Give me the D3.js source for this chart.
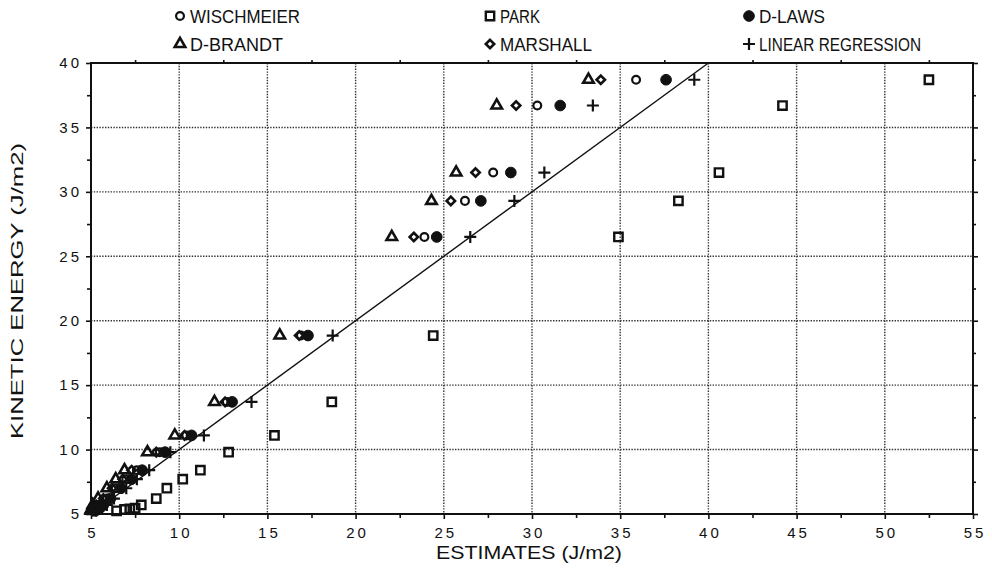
<!DOCTYPE html>
<html>
<head>
<meta charset="utf-8">
<script src="https://cdn.jsdelivr.net/npm/d3@7"></script>
<style>
  body { margin: 0; background: #fff; }
  text { font-family: "Liberation Sans Narrow", "Liberation Sans", Arial, sans-serif; fill: #111; }
</style>
</head>
<body>
<svg id="chart" width="992" height="568"></svg>
<script>
// kinetic energy levels (observed), shared by every estimate series
const kineticEnergy = [38.7, 36.7, 31.5, 29.3, 26.5, 18.85, 13.7, 11.1, 9.8, 8.4, 7.7, 7.0, 6.2, 5.7, 5.45, 5.4, 5.35, 5.25];

const wischmeier = [35.9, 30.3, 27.8, 26.2, 23.9, 16.9, 12.7, 10.4, 8.9, 7.6, 7.0, 6.4, 5.9, 5.5, 5.4, 5.3, 5.2, 5.15];
const park       = [52.5, 44.2, 40.6, 38.3, 34.9, 24.4, 18.65, 15.4, 12.8, 11.2, 10.2, 9.3, 8.7, 7.85, 7.5, 7.2, 6.9, 6.45];
const dLaws      = [37.6, 31.6, 28.8, 27.1, 24.6, 17.3, 13.0, 10.7, 9.2, 7.9, 7.3, 6.7, 6.1, 5.7, 5.5, 5.4, 5.3, 5.2];
const dBrandt    = [33.2, 28.0, 25.7, 24.3, 22.05, 15.7, 12.0, 9.75, 8.2, 6.9, 6.4, 5.9, 5.4, 5.1, 5.1, 5.05, 5.0, 5.0];
const marshall   = [33.9, 29.1, 26.8, 25.4, 23.3, 16.8, 12.6, 10.3, 8.7, 7.3, 6.8, 6.2, 5.7, 5.3, 5.3, 5.2, 5.15, 5.1];
const linReg     = [39.2, 33.45, 30.7, 29.0, 26.5, 18.7, 14.1, 11.4, 9.5, 8.3, 7.6, 7.0, 6.3, 5.9, 5.6, 5.5, 5.4, 5.3];

const xTicks = [5, 10, 15, 20, 25, 30, 35, 40, 45, 50, 55];
const yTicks = [5, 10, 15, 20, 25, 30, 35, 40];
const minorTicks = [7.5, 12.5, 17.5, 22.5, 27.5, 32.5, 37.5, 42.5, 47.5, 52.5];

const svg = d3.select("#chart");
const m = {left: 91, right: 973, top: 63, bottom: 514};

const x = d3.scaleLinear().domain([5, 55]).range([m.left, m.right]);
const y = d3.scaleLinear().domain([5, 40]).range([m.bottom, m.top]);

// marker shapes
const sym = (type, size) => d3.symbol().type(type).size(size)();
const plusPath = "M-6,0H6M0,-6V6";
const diamondPath = "M0,-4.2L4.2,0L0,4.2L-4.2,0Z";

const series = [
  {name: "WISCHMEIER", vals: wischmeier, path: sym(d3.symbolCircle, 48), fill: "none", sw: 2.2, col: 0, row: 0},
  {name: "PARK", vals: park, path: sym(d3.symbolSquare, 70), fill: "none", sw: 2.4, col: 1, row: 0},
  {name: "D-LAWS", vals: dLaws, path: sym(d3.symbolCircle, 90), fill: "#111", sw: 1, col: 2, row: 0},
  {name: "D-BRANDT", vals: dBrandt, path: sym(d3.symbolTriangle, 48), fill: "none", sw: 2.6, col: 0, row: 1},
  {name: "MARSHALL", vals: marshall, path: diamondPath, fill: "none", sw: 2.6, col: 1, row: 1},
  {name: "LINEAR REGRESSION", vals: linReg, path: plusPath, fill: "none", sw: 2.2, col: 2, row: 1}
];

// grid
const grid = svg.append("g").attr("stroke", "#333").attr("stroke-width", 1.4).attr("stroke-dasharray", "1.4,1.4");
grid.selectAll("line.gx").data(xTicks.slice(1, -1)).join("line")
  .attr("x1", d => x(d)).attr("x2", d => x(d)).attr("y1", m.top).attr("y2", m.bottom);
grid.selectAll("line.gy").data(yTicks.slice(1, -1)).join("line")
  .attr("y1", d => y(d)).attr("y2", d => y(d)).attr("x1", m.left).attr("x2", m.right);

// axes
const fmtAxis = (g) => {
  g.select(".domain").remove();
  g.selectAll("line").attr("stroke", "#111").attr("stroke-width", 1.6);
  g.selectAll("text").style("font-family", "'Liberation Sans', Arial, sans-serif")
    .style("font-size", "15px").style("letter-spacing", "3px").attr("fill", "#111");
};

svg.append("g").attr("transform", `translate(0,${m.bottom})`)
  .call(d3.axisBottom(x).tickValues(xTicks).tickSize(5).tickPadding(8).tickFormat(d3.format("d")))
  .call(fmtAxis)
  .selectAll("text").attr("dx", "1.5px");
svg.append("g").attr("transform", `translate(0,${m.bottom})`)
  .call(d3.axisBottom(x).tickValues(minorTicks).tickSize(4).tickFormat(""))
  .call(fmtAxis);

svg.append("g").attr("transform", `translate(${m.left},0)`)
  .call(d3.axisLeft(y).tickValues(yTicks).tickSize(5).tickPadding(4).tickFormat(d3.format("d")))
  .call(fmtAxis);
svg.append("g").attr("transform", `translate(${m.left},0)`)
  .call(d3.axisLeft(y).tickValues(minorTicks.filter(d => d < 40)).tickSize(4).tickFormat(""))
  .call(fmtAxis);

svg.append("g").attr("transform", `translate(0,${m.top})`)
  .call(d3.axisTop(x).tickValues(minorTicks).tickSize(3).tickFormat(""))
  .call(fmtAxis);
svg.append("g").attr("transform", `translate(${m.right},0)`)
  .call(d3.axisRight(y).tickValues(yTicks).tickSize(5).tickFormat(""))
  .call(fmtAxis);
svg.append("g").attr("transform", `translate(${m.right},0)`)
  .call(d3.axisRight(y).tickValues(minorTicks.filter(d => d < 40)).tickSize(3).tickFormat(""))
  .call(fmtAxis);

// frame
svg.append("rect").attr("x", m.left).attr("y", m.top).attr("width", m.right - m.left).attr("height", m.bottom - m.top)
  .attr("fill", "none").attr("stroke", "#111").attr("stroke-width", 2);

// 1:1 line
svg.append("line")
  .attr("x1", x(5)).attr("y1", y(5)).attr("x2", x(40)).attr("y2", y(40))
  .attr("stroke", "#111").attr("stroke-width", 1.4);

// points
series.forEach(s => {
  svg.append("g").selectAll("path")
    .data(s.vals.map((v, i) => [v, kineticEnergy[i]]))
    .join("path")
    .attr("d", s.path)
    .attr("transform", d => `translate(${x(d[0])},${y(d[1])})`)
    .attr("fill", s.fill)
    .attr("stroke", "#111")
    .attr("stroke-width", s.sw);
});

// legend
const legX = [180, 490, 749], legY = [16, 44];
const legLen = {"WISCHMEIER": 110, "PARK": 40, "D-LAWS": 66, "D-BRANDT": 93, "MARSHALL": 92, "LINEAR REGRESSION": 162};
const leg = svg.append("g");
series.forEach(s => {
  const g = leg.append("g").attr("transform", `translate(${legX[s.col]},${legY[s.row]})`);
  g.append("path").attr("d", s.path).attr("fill", s.fill)
    .attr("stroke", "#111").attr("stroke-width", s.sw);
  g.append("text").attr("x", 10).attr("y", 6.5)
    .attr("textLength", legLen[s.name]).attr("lengthAdjust", "spacingAndGlyphs")
    .style("font-size", "18px").text(s.name);
});

// axis titles
svg.append("text").attr("x", 529).attr("y", 559).attr("text-anchor", "middle")
  .attr("textLength", 186).attr("lengthAdjust", "spacingAndGlyphs")
  .style("font-size", "18px").text("ESTIMATES  (J/m2)");
svg.append("text").attr("transform", "translate(23,291) rotate(-90)").attr("text-anchor", "middle")
  .attr("textLength", 296).attr("lengthAdjust", "spacingAndGlyphs")
  .style("font-family", "'Liberation Sans', Arial, sans-serif")
  .style("font-size", "16px").text("KINETIC ENERGY (J/m2)");
</script>
</body>
</html>
